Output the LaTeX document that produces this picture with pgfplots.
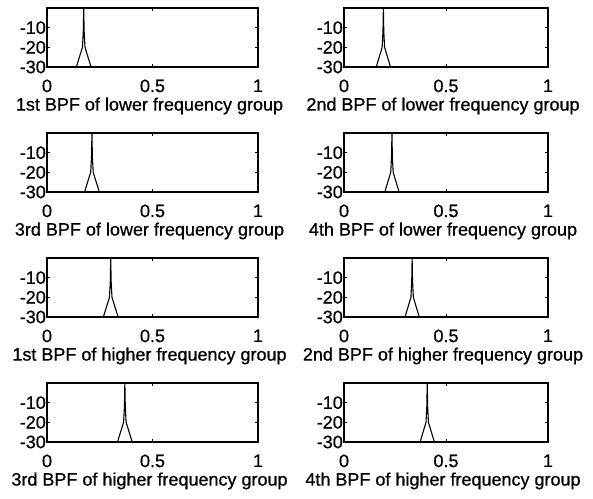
\documentclass[border=0pt]{standalone}
\usepackage{fontspec}
\setmainfont{Liberation Sans}[FakeBold=0.7]
\usepackage{pgfplots}
\pgfplotsset{compat=1.18}
\pgfplotsset{
  bpf/.style={
    scale only axis,
    anchor=north west,
    height=59pt,
    ymin=-30, ymax=0,
    xmin=0, xmax=1,
    ytick={-10,-20,-30},
    xtick={0,0.5,1},
    xticklabels={0,0.5,1},
    tick align=inside,
    xtick pos=both, ytick pos=both,
    major tick length=3pt,
    axis line style={line width=1.1pt},
    every tick/.style={black, line width=0.8pt},
    tick label style={font=\fontsize{18}{18}\selectfont},
    /pgf/number format/assume math mode=true,
    yticklabel style={xshift=0pt, inner sep=1pt},
    xticklabel style={yshift=-9pt},
    xlabel style={at={(axis description cs:0.5,0)}, anchor=north, font=\fontsize{18}{18}\selectfont, yshift=-27pt, xshift=-3pt},
    clip=true,
  },
  bpfl/.style={bpf, width=211pt},
  bpfr/.style={bpf, width=204pt},
}
\begin{document}
\begin{tikzpicture}
\useasboundingbox (0pt,0pt) rectangle (593pt,-498pt);
% Row 1
\begin{axis}[bpfl, at={(47pt,-8pt)}, xlabel={1st BPF of lower frequency group}]
\addplot[black, line width=1.1pt] coordinates {(0,-30) (0.139,-30) (0.168,-20) (0.172,-12) (0.174,0) (0.176,-12) (0.180,-20) (0.209,-30) (1,-30)};
\end{axis}
\begin{axis}[bpfr, at={(344pt,-8pt)}, xlabel={2nd BPF of lower frequency group}]
\addplot[black, line width=1.1pt] coordinates {(0,-30) (0.158,-30) (0.187,-20) (0.191,-12) (0.193,0) (0.195,-12) (0.199,-20) (0.228,-30) (1,-30)};
\end{axis}
% Row 2
\begin{axis}[bpfl, at={(47pt,-133pt)}, xlabel={3rd BPF of lower frequency group}]
\addplot[black, line width=1.1pt] coordinates {(0,-30) (0.178,-30) (0.207,-20) (0.211,-12) (0.213,0) (0.215,-12) (0.219,-20) (0.248,-30) (1,-30)};
\end{axis}
\begin{axis}[bpfr, at={(344pt,-133pt)}, xlabel={4th BPF of lower frequency group}]
\addplot[black, line width=1.1pt] coordinates {(0,-30) (0.200,-30) (0.229,-20) (0.233,-12) (0.235,0) (0.237,-12) (0.241,-20) (0.270,-30) (1,-30)};
\end{axis}
% Row 3
\begin{axis}[bpfl, at={(47pt,-258pt)}, xlabel={1st BPF of higher frequency group}]
\addplot[black, line width=1.1pt] coordinates {(0,-30) (0.267,-30) (0.296,-20) (0.300,-12) (0.302,0) (0.304,-12) (0.308,-20) (0.337,-30) (1,-30)};
\end{axis}
\begin{axis}[bpfr, at={(344pt,-258pt)}, xlabel={2nd BPF of higher frequency group}]
\addplot[black, line width=1.1pt] coordinates {(0,-30) (0.299,-30) (0.328,-20) (0.332,-12) (0.334,0) (0.336,-12) (0.340,-20) (0.369,-30) (1,-30)};
\end{axis}
% Row 4
\begin{axis}[bpfl, at={(47pt,-383pt)}, xlabel={3rd BPF of higher frequency group}]
\addplot[black, line width=1.1pt] coordinates {(0,-30) (0.334,-30) (0.363,-20) (0.367,-12) (0.369,0) (0.371,-12) (0.375,-20) (0.404,-30) (1,-30)};
\end{axis}
\begin{axis}[bpfr, at={(344pt,-383pt)}, xlabel={4th BPF of higher frequency group}]
\addplot[black, line width=1.1pt] coordinates {(0,-30) (0.373,-30) (0.402,-20) (0.406,-12) (0.408,0) (0.410,-12) (0.414,-20) (0.443,-30) (1,-30)};
\end{axis}
\end{tikzpicture}
\end{document}
